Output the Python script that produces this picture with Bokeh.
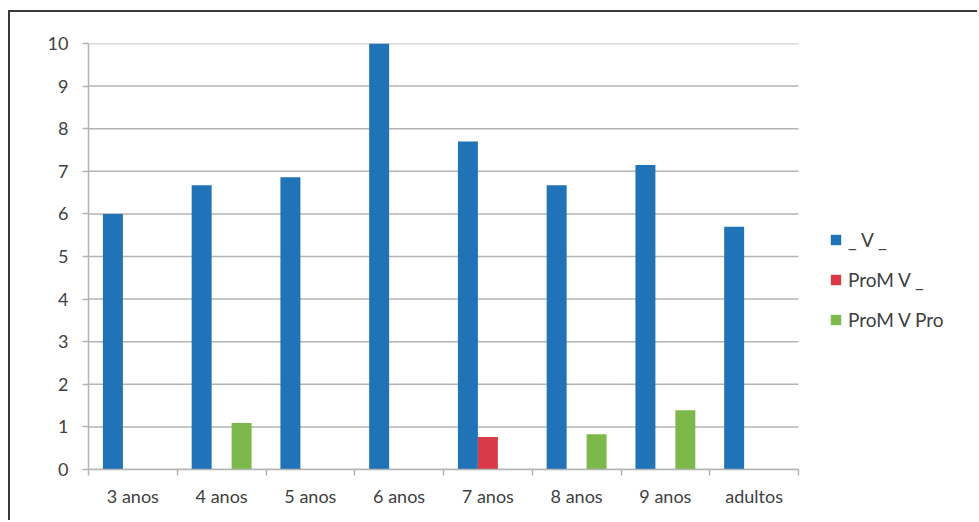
from bokeh.plotting import figure
from bokeh.models import ColumnDataSource, Range1d, FixedTicker, Legend, LegendItem
from bokeh.transform import dodge
from bokeh.embed import file_html
from bokeh.resources import INLINE

categories = ["3 anos", "4 anos", "5 anos", "6 anos", "7 anos", "8 anos", "9 anos", "adultos"]
v_values = [6.0, 6.67, 6.86, 10.0, 7.7, 6.67, 7.15, 5.7]
prom_v_values = [0, 0, 0, 0, 0.76, 0, 0, 0]
prom_v_pro_values = [0, 1.09, 0, 0, 0, 0.83, 1.39, 0]
series_names = ["_ V _", "ProM V _", "ProM V Pro"]
y_ticks = list(range(0, 11))

colors = ["#1f73b6", "#d93a47", "#7cb84a"]
FONT = "Lato"
TXT = "#404040"
GRID = "#b4b4b4"

n = len(categories)
centers = [i + 0.5 for i in range(n)]
bounds = [float(i) for i in range(n + 1)]
source = ColumnDataSource(dict(x=centers, v=v_values, pv=prom_v_values, pvp=prom_v_pro_values))
grid_src = ColumnDataSource(dict(y=y_ticks, x0=[0] * len(y_ticks), x1=[n] * len(y_ticks)))

# frame spans the whole width so the legend (drawn inside the frame) is visible;
# the category area occupies the first 8 units (710 px of 891 px)
x_end = n * 891 / 710
p = figure(width=969, height=510, output_backend="svg", toolbar_location=None,
           x_range=Range1d(0, x_end), y_range=Range1d(0, 10),
           min_border_left=78, min_border_right=0, min_border_top=31, min_border_bottom=53)
p.styles = {"margin-left": "8px", "margin-top": "10px",
            "border-top": "2px solid #3a3a3a", "border-left": "2px solid #3a3a3a"}
p.outline_line_color = None
p.background_fill_color = "white"
p.border_fill_color = "white"
p.xgrid.visible = False
p.ygrid.visible = False

p.segment(x0="x0", x1="x1", y0="y", y1="y", source=grid_src, line_color=GRID, line_width=1.5)

w = 0.225
r1 = p.vbar(x=dodge("x", -w, range=p.x_range), top="v", width=w, source=source,
            fill_color=colors[0], line_color=None)
r2 = p.vbar(x=dodge("x", 0.0, range=p.x_range), top="pv", width=w, source=source,
            fill_color=colors[1], line_color=None)
r3 = p.vbar(x=dodge("x", w, range=p.x_range), top="pvp", width=w, source=source,
            fill_color=colors[2], line_color=None)

p.yaxis.ticker = FixedTicker(ticks=y_ticks)
p.yaxis.axis_line_color = GRID
p.yaxis.axis_line_width = 1.5
p.yaxis.major_tick_line_color = GRID
p.yaxis.major_tick_line_width = 1.5
p.yaxis.major_tick_out = 6
p.yaxis.major_tick_in = 0
p.yaxis.minor_tick_line_color = None
p.yaxis.major_label_standoff = 14
p.yaxis.major_label_text_font = FONT
p.yaxis.major_label_text_font_size = "18px"
p.yaxis.major_label_text_color = TXT

p.xaxis.bounds = (0, n)
p.xaxis.ticker = FixedTicker(ticks=centers, minor_ticks=bounds)
p.xaxis.major_label_overrides = {c: lab for c, lab in zip(centers, categories)}
p.xaxis.axis_line_color = GRID
p.xaxis.axis_line_width = 1.5
p.xaxis.major_tick_line_color = None
p.xaxis.minor_tick_line_color = GRID
p.xaxis.minor_tick_line_width = 1.5
p.xaxis.minor_tick_out = 6
p.xaxis.minor_tick_in = 0
p.xaxis.major_label_standoff = 9
p.xaxis.major_label_text_font = FONT
p.xaxis.major_label_text_font_size = "18px"
p.xaxis.major_label_text_color = TXT

legend = Legend(items=[LegendItem(label=series_names[0], renderers=[r1]),
                       LegendItem(label=series_names[1], renderers=[r2]),
                       LegendItem(label=series_names[2], renderers=[r3])],
                location=(741, 138))
legend.border_line_color = None
legend.background_fill_color = None
legend.background_fill_alpha = 0
legend.padding = 0
legend.margin = 0
legend.glyph_width = 13
legend.glyph_height = 13
legend.label_height = 20
legend.spacing = 17
legend.label_standoff = 6
legend.label_text_font = FONT
legend.label_text_font_size = "19px"
legend.label_text_color = TXT
p.add_layout(legend)

open("out.html", "w").write(file_html(p, INLINE))
